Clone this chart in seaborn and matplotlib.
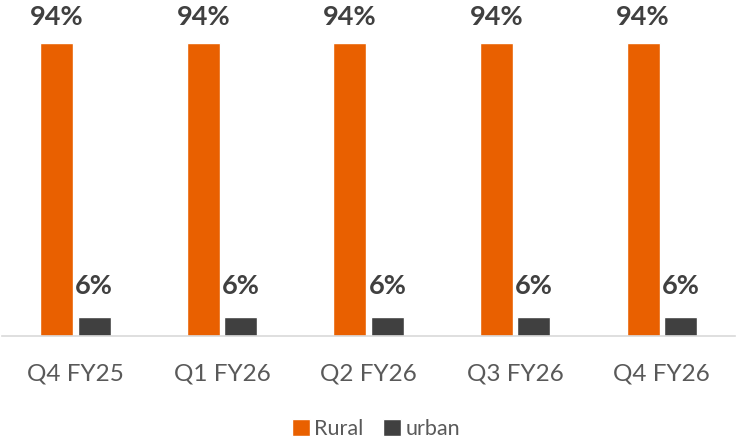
import pandas as pd
import numpy as np
import matplotlib.pyplot as plt
import seaborn as sns

# Chart values
quarters = ['Q4 FY25', 'Q1 FY26', 'Q2 FY26', 'Q3 FY26', 'Q4 FY26']
rural = [94, 94, 94, 94, 94]
urban = [6, 6, 6, 6, 6]

df = pd.DataFrame({
    'Quarter': quarters * 2,
    'Share': rural + urban,
    'Segment': ['Rural'] * len(quarters) + ['urban'] * len(quarters),
})

sns.set_style('white')
plt.rcParams['font.family'] = ['Lato', 'DejaVu Sans']

fig = plt.figure(figsize=(7.38, 4.44), dpi=100)
ax = fig.add_axes([0.003, 0.243, 0.993, 0.703])

palette = {'Rural': '#E96000', 'urban': '#404040'}
sns.barplot(data=df, x='Quarter', y='Share', hue='Segment', palette=palette,
            width=0.51, gap=0.12, saturation=1, ax=ax)

ax.set_ylim(0, 100)
ax.set_xlim(-0.5, 4.5)
ax.set_xlabel('')
ax.set_ylabel('')
ax.set_yticks([])
for s in ['top', 'left', 'right']:
    ax.spines[s].set_visible(False)
ax.spines['bottom'].set_color('#D9D9D9')
ax.spines['bottom'].set_linewidth(1.2)
ax.tick_params(axis='x', length=0, pad=20, labelsize=17.5, labelcolor='#595959')

pads = [10, 14]
for cont, pad in zip(ax.containers, pads):
    labels = ax.bar_label(cont, fmt='%d%%', padding=pad, fontsize=19.5,
                          fontweight='bold', color='#404040')
    for t in labels:
        t.set_clip_on(False)

leg = ax.legend(loc='center', bbox_to_anchor=(0.51, -0.298), ncol=2,
                frameon=False, fontsize=15.5, handlelength=0.85, handleheight=0.85,
                handletextpad=0.2, columnspacing=0.9)
for t in leg.get_texts():
    t.set_color('#595959')

plt.savefig('out.png', dpi=100)
